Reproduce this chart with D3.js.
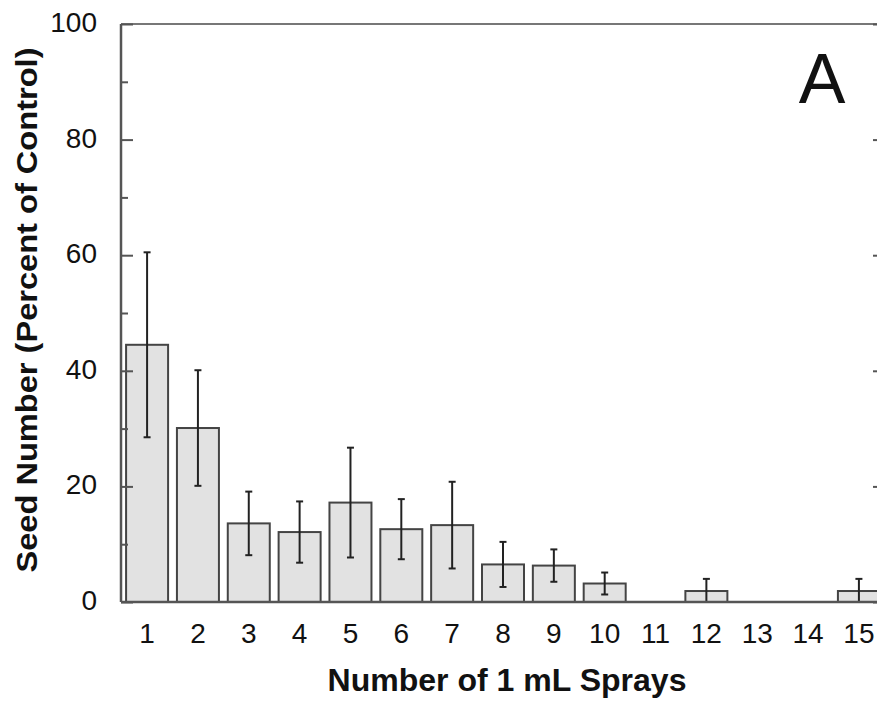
<!DOCTYPE html>
<html lang="en">
<head>
    <meta charset="UTF-8">
    <title>Seed Number vs Sprays</title>
    <style>
        body { margin: 0; background: #ffffff; }
        svg { display: block; }
        text { font-family: 'Liberation Sans', Arial, sans-serif; fill: #111; }
    </style>
    <script src="https://d3js.org/d3.v7.min.js"></script>
</head>
<body>
<svg id="chart" width="877" height="705"></svg>
<script>
    // Data
    const sprays = ["1","2","3","4","5","6","7","8","9","10","11","12","13","14","15"];
    const seedPct = [44.5, 30.1, 13.6, 12.1, 17.2, 12.6, 13.3, 6.5, 6.3, 3.2, 0, 1.9, 0, 0, 1.9];
    const seedErr = [16.0, 10.0, 5.5, 5.3, 9.5, 5.2, 7.5, 3.9, 2.8, 1.9, 0, 2.1, 0, 0, 2.1];
    const yTicks = [0, 20, 40, 60, 80, 100];
    const yMinor = [10, 30, 50, 70, 90];

    const svg = d3.select("#chart");
    const plotL = 121, plotR = 879, plotT = 24, plotB = 602;

    const x = d3.scaleBand()
        .domain(sprays)
        .range([plotL, 885])
        .paddingInner(0.174)
        .paddingOuter(0.1);

    const y = d3.scaleLinear().domain([0, 100]).range([plotB, plotT]);

    const axisColor = "#555";

    // frame
    svg.append("line").attr("x1", plotL).attr("x2", plotR + 10).attr("y1", plotT).attr("y2", plotT)
        .attr("stroke", "#777").attr("stroke-width", 2);
    svg.append("line").attr("x1", plotR).attr("x2", plotR).attr("y1", plotT).attr("y2", plotB)
        .attr("stroke", axisColor).attr("stroke-width", 2);

    // bars
    svg.append("g").selectAll("rect")
        .data(seedPct)
        .enter().append("rect")
        .attr("x", (d, i) => x(sprays[i]))
        .attr("y", d => y(d))
        .attr("width", x.bandwidth())
        .attr("height", d => plotB - y(d))
        .attr("fill", "#e2e2e2")
        .attr("stroke", "#444")
        .attr("stroke-width", 2);

    // error bars
    const err = svg.append("g").attr("stroke", "#222").attr("stroke-width", 2);
    seedPct.forEach((v, i) => {
        const e = seedErr[i];
        if (!e) return;
        const cx = x(sprays[i]) + x.bandwidth() / 2;
        const hi = y(v + e), lo = y(Math.max(0, v - e));
        err.append("line").attr("x1", cx).attr("x2", cx).attr("y1", hi).attr("y2", lo);
        err.append("line").attr("x1", cx - 3.5).attr("x2", cx + 3.5).attr("y1", hi).attr("y2", hi);
        if (v - e > 0) {
            err.append("line").attr("x1", cx - 3.5).attr("x2", cx + 3.5).attr("y1", lo).attr("y2", lo);
        }
    });

    // left axis, ticks pointing inward
    const yAxis = d3.axisRight(y).tickValues(yTicks).tickSize(12).tickFormat("");
    const gy = svg.append("g").attr("transform", `translate(${plotL},0)`).call(yAxis);
    gy.select(".domain").remove();
    gy.selectAll(".tick line").attr("stroke", axisColor).attr("stroke-width", 2);
    const gyMinor = svg.append("g").attr("transform", `translate(${plotL},0)`)
        .call(d3.axisRight(y).tickValues(yMinor).tickSize(7).tickFormat(""));
    gyMinor.select(".domain").remove();
    gyMinor.selectAll(".tick line").attr("stroke", axisColor).attr("stroke-width", 2);
    svg.append("line").attr("x1", plotL).attr("x2", plotL).attr("y1", plotT).attr("y2", plotB)
        .attr("stroke", axisColor).attr("stroke-width", 2.5);

    // right axis ticks pointing inward
    const gr = svg.append("g").attr("transform", `translate(${plotR},0)`)
        .call(d3.axisLeft(y).tickValues(yTicks).tickSize(6).tickFormat(""));
    gr.select(".domain").remove();
    gr.selectAll(".tick line").attr("stroke", axisColor).attr("stroke-width", 2);

    // y tick labels
    svg.append("g").selectAll("text")
        .data(yTicks)
        .enter().append("text")
        .attr("x", 97)
        .attr("y", d => y(d) - 2)
        .attr("dy", "0.36em")
        .attr("text-anchor", "end")
        .attr("font-size", 28)
        .text(d => d);

    // baseline
    svg.append("line").attr("x1", plotL).attr("x2", plotR).attr("y1", plotB).attr("y2", plotB)
        .attr("stroke", axisColor).attr("stroke-width", 2.5);

    // x tick labels
    const gx = svg.append("g").attr("transform", `translate(0,${plotB})`)
        .call(d3.axisBottom(x).tickSize(0).tickPadding(21));
    gx.select(".domain").remove();
    gx.selectAll("text").attr("font-size", 28).attr("fill", "#111")
        .style("font-family", "'Liberation Sans', Arial, sans-serif");

    // axis titles
    svg.append("text")
        .attr("x", 507).attr("y", 691)
        .attr("text-anchor", "middle")
        .attr("font-size", 31)
        .attr("font-weight", "bold")
        .attr("textLength", 359)
        .attr("lengthAdjust", "spacingAndGlyphs")
        .text("Number of 1 mL Sprays");

    svg.append("text")
        .attr("transform", "translate(37,310) rotate(-90)")
        .attr("text-anchor", "middle")
        .attr("font-size", 30)
        .attr("font-weight", "bold")
        .attr("textLength", 525)
        .attr("lengthAdjust", "spacingAndGlyphs")
        .text("Seed Number (Percent of Control)");

    // panel letter
    svg.append("text")
        .attr("x", 822).attr("y", 103)
        .attr("text-anchor", "middle")
        .attr("font-size", 70)
        .text("A");
</script>
</body>
</html>
